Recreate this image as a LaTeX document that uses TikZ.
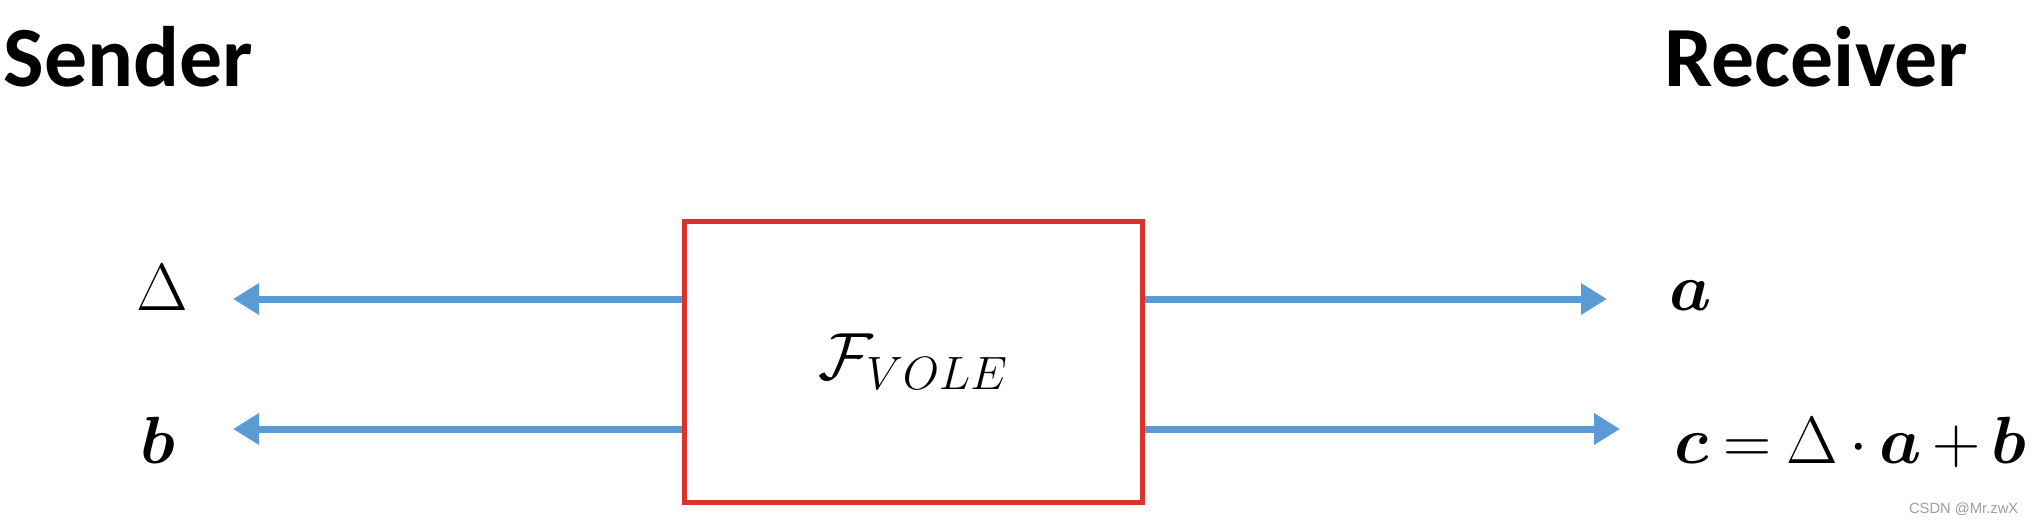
\RequirePackage{fix-cm}
\documentclass[tikz,border=0pt]{standalone}
\usepackage{fontspec}
\usepackage{amsmath,amssymb}
\usepackage{bm}
\usetikzlibrary{arrows.meta}
\newfontfamily\calfont{Carlito}
\newfontfamily\markfont{Liberation Sans}
\definecolor{volered}{RGB}{218,52,42}
\definecolor{voleblue}{RGB}{91,155,213}

\begin{document}
\begin{tikzpicture}[
  party/.style={inner sep=0pt,anchor=base west,font=\calfont\bfseries\fontsize{24.4}{28}\selectfont},
  val/.style={inner sep=0pt,anchor=base west,font=\fontsize{19}{22}\selectfont},
  func/.style={draw=volered,line width=0.05cm,minimum width=4.58cm,minimum height=2.81cm,inner sep=0pt,font=\fontsize{19}{22}\selectfont},
  flow/.style={voleblue,line width=0.07cm,-{Triangle[length=0.26cm,width=0.3cm]}}]
\useasboundingbox (0,0) rectangle (20.32,5.22);

\node[party] (snd) at (0.03,4.35) {Sender};
\node[party] (rcv) at (16.64,4.35) {Receiver};

\node[func] (vole) at (9.135,1.60) {$\mathcal{F}_{VOLE}$};

\node[val] (delta) at (1.36,2.12) {$\Delta$};
\node[val] (b) at (1.40,0.59) {$\bm{b}$};
\node[val] (a) at (16.69,2.12) {$\bm{a}$};
\node[val] (c) at (16.74,0.59) {\thickmuskip=4mu \medmuskip=3mu $\bm{c}=\Delta\cdot\bm{a}+\bm{b}$};

\coordinate (dtip) at (2.33,2.23);
\coordinate (btip) at (2.33,0.93);
\coordinate (atip) at (16.07,2.23);
\coordinate (ctip) at (16.20,0.93);

\draw[flow] (vole.west |- dtip) -- (dtip);
\draw[flow] (vole.west |- btip) -- (btip);
\draw[flow] (vole.east |- atip) -- (atip);
\draw[flow] (vole.east |- ctip) -- (ctip);

\node[inner sep=0pt,anchor=base east,text=black!38,font=\markfont\fontsize{4.2}{5}\selectfont] (mark) at (20.19,0.09) {CSDN @Mr.zwX};
\end{tikzpicture}
\end{document}
